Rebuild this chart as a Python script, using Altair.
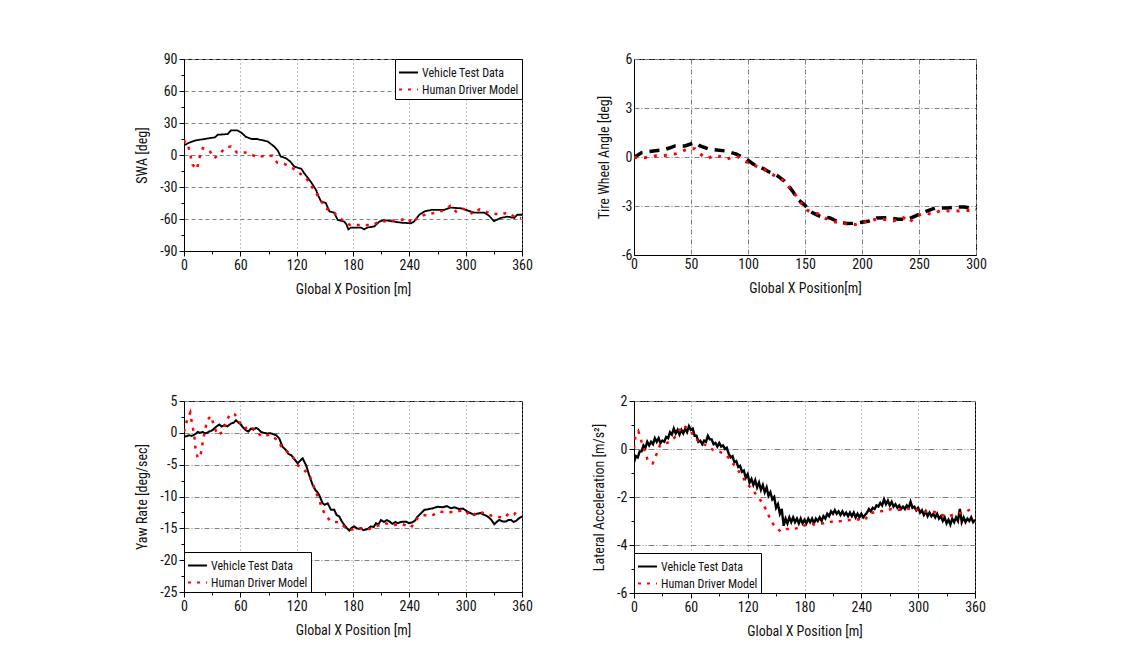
import altair as alt
import numpy as np
import pandas as pd

FONT = "Roboto Condensed, Liberation Sans, Arial, sans-serif"
SERIES = ["Vehicle Test Data", "Human Driver Model"]

# ---------------- Panel 1: SWA ----------------
swa_vehicle = [(0, 9), (4, 11), (10, 13), (14.5, 14), (22, 15), (28.8, 16), (33, 16.5), (36, 19),
               (46.5, 19.6), (50, 23), (57, 23), (61, 21), (66, 17), (72, 15), (78, 15), (85, 13.5),
               (89, 12.7), (96, 8), (100, 4), (103, -1.4), (108.6, -3), (113, -6), (117.5, -10.8),
               (122.8, -12.4), (125, -13), (128, -17), (135, -25), (140.6, -32.7), (143, -38),
               (146, -43.7), (151, -45), (155, -53), (160, -54), (163.7, -61), (170.7, -62.5),
               (173, -65), (175, -69.7), (177.8, -68), (188.5, -68), (192, -69.7), (195.5, -68),
               (202.6, -67), (208, -62.5), (213, -61), (224, -62.5), (231, -63.4), (241.8, -64),
               (245, -62.5), (250.6, -56), (256, -53), (263, -51.5), (277, -51.5), (284, -49.3),
               (295, -50), (302, -52), (309, -54), (320, -54), (325, -57), (330, -62), (337.5, -59),
               (344.7, -57.8), (351.8, -59), (355, -56), (360, -56)]
swa_model = [(0, 11), (1, 12.7), (4, 11), (6.7, 0.2), (9, -9), (13.8, -13.3), (16.3, -3), (20, 6.4),
             (25, 5.5), (27.7, 3.3), (32.3, -3), (38.7, 1.7), (44.7, 7.3), (50, 8), (56.4, 2.4),
             (65.3, 2.4), (72, 0.2), (78.5, -2), (85.6, -0.8), (94.4, -0.8), (99, -7), (106.9, -8.3),
             (115.7, -12.4), (122.8, -17), (128, -20.2), (133.5, -25), (137, -31), (142, -37.4),
             (147, -44.3), (151, -50), (158.3, -53), (164.4, -57.8), (170.7, -62.5), (177, -65.6),
             (185, -65.6), (193, -65.6), (201, -65.6), (209.8, -61.8), (217, -62.5), (224, -61.5),
             (231, -61), (237.5, -59.3), (243.5, -64), (248, -59.3), (254, -56.8), (259.5, -55.3),
             (265, -54.6), (272, -53), (277, -52), (283.7, -47.7), (289.7, -53), (295, -50),
             (302, -51.5), (307.5, -55.3), (314.6, -51), (320, -53), (327, -54.6), (332.3, -55.3),
             (337.6, -55.6), (344.7, -54), (351.8, -57.8), (359, -59.3)]

# ---------------- Panel 2: Tire wheel angle ----------------
twa_vehicle = [(0, -0.03), (6.7, 0.27), (12, 0.33), (17, 0.37), (25.7, 0.43), (31, 0.55), (36, 0.68),
               (44.7, 0.68), (49, 0.78), (53.5, 0.88), (58, 0.68), (65, 0.5), (72.5, 0.43), (80, 0.37),
               (85, 0.28), (90, 0.17), (98.8, -0.13), (104.7, -0.44), (114.3, -0.74), (118, -0.9),
               (123.7, -1.04), (131.6, -1.45), (136, -1.8), (139.8, -2.15), (143.3, -2.56),
               (150, -2.96), (154.4, -3.33), (159, -3.5), (164.6, -3.67), (172, -3.73), (179, -3.97),
               (186.5, -4.07), (192, -4.05), (198, -4.01), (205.5, -3.93), (212.9, -3.73),
               (223, -3.71), (232, -3.81), (240.6, -3.81), (248, -3.57), (256.7, -3.31),
               (264, -3.13), (274, -3.13), (281.6, -3.06), (290, -3.06), (300, -3.2)]
twa_model = [(0, -0.03), (9.6, -0.04), (19.3, 0.07), (29, 0.11), (39.5, 0.23), (46.8, 0.51),
             (53.5, 0.51), (56.4, 0.27), (63.7, -0.09), (72.5, 0.11), (81.3, -0.13), (90, 0.07),
             (97.4, -0.27), (105, -0.5), (112.9, -0.7), (120.7, -1.04), (131, -1.45), (136.8, -1.91),
             (142, -2.36), (146.5, -2.82), (152.3, -3.27), (161, -3.47), (168.4, -3.77),
             (175.4, -3.97), (184.2, -4.07), (194.2, -4.13), (202.6, -3.97), (211.4, -3.83),
             (218.7, -3.81), (227.5, -3.91), (236.3, -3.71), (241.5, -4.01), (247.4, -3.61),
             (255.3, -3.43), (262.6, -3.51), (268.5, -3.27), (277.2, -3.31), (286, -3.31),
             (291.8, -3.27), (299, -3.27)]

# ---------------- Panel 3: Yaw rate ----------------
yaw_vehicle = [(0, -0.63), (3, -0.5), (5.7, -0.37), (8, -0.5), (11, -0.27), (13, -0.1), (14.6, 0.15),
               (17, 0.0), (19.9, 0.15), (22, -0.05), (24.5, 0.0), (26.5, 0.2), (28.8, 0.3), (31, 0.5),
               (34, 0.93), (37.6, 1.3), (40, 1.0), (43, 1.2), (46, 1.0), (50, 1.45), (53, 1.6),
               (55.4, 1.98), (58, 1.6), (60.7, 1.3), (63, 0.8), (66, 0.41), (68.5, 0.2), (71.4, 0.67),
               (74, 0.5), (76.7, 0.78), (79, 0.6), (82, 0.15), (85, 0.0), (89, -0.11), (92, -0.05),
               (96, -0.27), (98.5, -0.4), (101.5, -0.9), (105, -2.2), (108.6, -2.7), (111, -3.3),
               (114, -3.5), (117, -4.0), (121, -4.8), (123.5, -4.4), (126.4, -4.0), (128, -4.5),
               (130, -5.07), (133, -6.5), (137, -8.2), (140, -9.0), (142, -9.3), (144, -9.77),
               (147.7, -11.07), (150, -11.3), (153, -11.07), (156.6, -12.1), (160, -12.1),
               (162.5, -12.9), (165.4, -13.15), (168, -13.9), (170.7, -14.46), (173, -14.9),
               (176, -15.35), (178.5, -14.9), (181.4, -14.7), (185, -15.1), (188.5, -14.97),
               (191, -15.3), (193.8, -15.2), (196.5, -15.0), (199, -14.7), (202, -14.8),
               (204.5, -14.2), (207, -14.4), (209.8, -13.7), (213, -14.0), (216, -13.7),
               (218.7, -13.9), (222, -14.3), (225, -14.0), (227.5, -14.2), (231, -14.0),
               (236.4, -13.94), (240, -14.2), (243.4, -14.04), (246, -13.8), (248.8, -13.15),
               (252, -12.7), (256, -12.1), (260, -12.0), (265, -11.85), (270, -11.6), (275.6, -11.7),
               (280, -11.5), (284.4, -11.85), (288, -11.7), (293, -11.96), (297, -11.9),
               (302, -12.37), (305, -12.6), (309, -12.9), (312, -12.7), (316, -12.6), (320, -12.9),
               (323.5, -13.15), (327, -13.6), (330.5, -14.35), (333, -14.0), (335.8, -13.67),
               (339, -13.9), (342.9, -13.94), (345.5, -13.7), (348.2, -13.67), (351, -14.0),
               (353.5, -13.84), (357, -13.4), (360, -13.15)]
yaw_model = [(0, 0.15), (3.2, 1.98), (6.7, 3.2), (8.5, 1.45), (11, -0.37), (12, -2.2), (14.6, -4.0),
             (18, -3.24), (20, -1.4), (24.5, 1.98), (28.8, 2.65), (32.3, 0.93), (36, -0.37),
             (41, 0.15), (44.7, 1.72), (49.3, 3.0), (54.3, 2.86), (59, 1.72), (64.3, 0.67),
             (70.7, 1.1), (76.7, 0.15), (83.8, -0.63), (90.9, -0.27), (99.8, -1.15), (105, -2.46),
             (110.4, -2.98), (115.7, -3.77), (121, -5.07), (126.4, -5.6), (133.5, -6.64),
             (137, -7.94), (142.3, -10.0), (146.6, -11.6), (150.2, -12.9), (156.6, -13.94),
             (165.4, -14.04), (172.5, -15.0), (177.8, -15.2), (184.9, -14.97), (195.5, -15.2),
             (204.5, -14.7), (213.3, -14.2), (224, -14.46), (232.9, -14.35), (241.8, -14.87),
             (248.8, -13.4), (254.2, -12.9), (263, -13.05), (272, -12.4), (280.9, -12.5),
             (289.7, -12.4), (298.6, -12.1), (305.7, -13.15), (312.8, -12.4), (319.9, -12.6),
             (327, -13.0), (334, -13.15), (341, -13.4), (346.4, -12.6), (351.8, -12.8),
             (357, -11.85)]

# ---------------- Panel 4: Lateral acceleration ----------------
lat_vehicle = [(0, -0.55), (2, -0.3), (4, -0.35), (6, -0.1), (8, -0.1), (10, 0.15), (12, 0.05),
               (14, 0.3), (16, 0.15), (18, 0.3), (20, 0.2), (22, 0.45), (24, 0.3), (26, 0.45),
               (28, 0.25), (30, 0.35), (32, 0.3), (34, 0.5), (36, 0.45), (38, 0.7), (40, 0.6),
               (42, 0.85), (44, 0.65), (46, 0.8), (48, 0.6), (50, 0.8), (52, 0.65), (54, 0.85),
               (56, 0.7), (58, 0.95), (60, 0.8), (62, 0.85), (64, 0.55), (66, 0.55), (68, 0.3),
               (70, 0.35), (72, 0.2), (74, 0.35), (76, 0.3), (78, 0.55), (80, 0.4), (82, 0.4),
               (84, 0.2), (86, 0.25), (88, 0.1), (90, 0.25), (92, 0.1), (94, 0.15), (96, 0.0),
               (98, 0.05), (100, -0.2), (102, -0.35), (104, -0.3), (106, -0.55), (108, -0.5),
               (110, -0.75), (112, -0.7), (114, -0.95), (116, -0.9), (118, -1.2), (120, -1.05),
               (122, -1.4), (124, -1.25), (126, -1.5), (128, -1.3), (130, -1.6), (132, -1.4),
               (134, -1.7), (136, -1.5), (138, -1.8), (140, -1.6), (142, -1.95), (144, -1.8),
               (146, -2.1), (148, -2.0), (150, -2.45), (152, -2.3), (154, -2.7), (156, -2.5),
               (158, -3.2), (160, -2.9), (162, -3.1), (164, -2.85), (166, -3.05), (168, -2.85),
               (170, -3.05), (172, -2.9), (174, -3.1), (176, -2.9), (178, -3.1), (180, -2.95),
               (182, -3.1), (184, -2.9), (186, -3.05), (188, -2.9), (190, -3.1), (192, -2.9),
               (194, -3.0), (196, -2.85), (198, -3.0), (200, -2.8), (202, -2.9), (204, -2.7),
               (206, -2.8), (208, -2.6), (210, -2.7), (212, -2.55), (214, -2.7), (216, -2.6),
               (218, -2.75), (220, -2.6), (222, -2.75), (224, -2.65), (226, -2.8), (228, -2.65),
               (230, -2.8), (232, -2.65), (234, -2.85), (236, -2.7), (238, -2.85), (240, -2.7),
               (242, -2.85), (244, -2.75), (246, -2.65), (248, -2.5), (250, -2.6), (252, -2.45),
               (254, -2.5), (256, -2.35), (258, -2.4), (260, -2.25), (262, -2.35), (264, -2.1),
               (266, -2.3), (268, -2.15), (270, -2.35), (272, -2.2), (274, -2.4), (276, -2.3),
               (278, -2.45), (280, -2.35), (282, -2.5), (284, -2.4), (286, -2.5), (288, -2.35),
               (290, -2.45), (292, -2.2), (294, -2.45), (296, -2.4), (298, -2.55), (300, -2.45),
               (302, -2.65), (304, -2.55), (306, -2.75), (308, -2.6), (310, -2.8), (312, -2.65),
               (314, -2.8), (316, -2.7), (318, -2.85), (320, -2.7), (322, -2.9), (324, -2.8),
               (326, -3.0), (328, -2.85), (330, -3.1), (332, -2.95), (334, -3.15), (336, -2.9),
               (338, -3.05), (340, -2.85), (342, -3.0), (344, -2.5), (346, -3.05), (348, -2.85),
               (350, -3.05), (352, -2.9), (354, -3.0), (356, -2.85), (358, -3.05), (360, -2.95)]
lat_model = [(0, 0.02), (1.4, 0.5), (4.6, 0.74), (8, 0.3), (11.6, -0.12), (15, -0.53), (19.7, -0.6),
             (24, -0.19), (27.4, 0.16), (33.8, 0.23), (40.8, 0.37), (46.8, 0.71), (52, 0.99),
             (59, 0.78), (64.3, 0.5), (69.6, 0.23), (76.6, 0.16), (83.7, -0.05), (90.7, -0.12),
             (97.7, -0.26), (103, -0.53), (108.3, -0.81), (113.6, -1.09), (118.8, -1.43),
             (124, -1.64), (129.4, -1.92), (135.7, -2.26), (140.6, -2.61), (144, -2.96),
             (148.7, -3.23), (155, -3.44), (161, -3.33), (169.8, -3.33), (176.8, -3.23),
             (183.9, -3.13), (192.7, -3.13), (201.5, -3.09), (210.2, -3.02), (219, -3.0),
             (227.8, -2.96), (236.6, -2.93), (243.6, -2.96), (249, -2.68), (256, -2.61),
             (264.7, -2.58), (271.8, -2.5), (278.8, -2.54), (285.8, -2.5), (292.9, -2.47),
             (300, -2.54), (307, -2.61), (314, -2.58), (321, -2.68), (329.8, -2.82), (336.8, -2.75),
             (343.8, -2.68), (350.9, -2.61), (357.9, -2.44)]


def long_df(vehicle, model):
    rows = [(x, y, SERIES[0]) for x, y in vehicle] + [(x, y, SERIES[1]) for x, y in model]
    return pd.DataFrame(rows, columns=["x", "y", "series"])


def make_axis(title, lo, hi, step, major, grid_dash, ticks=True, title_pad=10):
    vals = [float(round(v, 4)) for v in np.arange(lo, hi + step / 2, step)]
    test = f"abs(datum.value % {major}) < 0.0001"
    kw = dict(
        values=vals,
        title=title,
        labelExpr=f"{test} ? '' + datum.value : ''",
        labelOverlap=False,
        labelFlush=False,
        labelBound=False,
        ticks=ticks,
        tickColor="black",
        grid=True,
        gridDash=grid_dash,
        gridColor="#808080",
        gridWidth=1,
        gridOpacity={"condition": {"test": test, "value": 1}, "value": 0},
        domainColor="black",
        labelFont=FONT,
        labelFontSize=14,
        labelColor="#111111",
        labelPadding=2,
        titleFont=FONT,
        titleFontSize=14,
        titleFontWeight="normal",
        titleColor="#111111",
        titlePadding=title_pad,
    )
    if ticks:
        kw["tickSize"] = {"condition": {"test": test, "value": 5}, "value": 3}
    return alt.Axis(**kw)


def panel(df, xaxis, xdom, yaxis, ydom, w, h, veh_dash, veh_w, mod_dash, mod_w, orient=None):
    if orient:
        leg = alt.Legend(orient=orient, title=None, offset=0)
    else:
        leg = None
    return alt.Chart(df).mark_line(clip=True, strokeCap="butt").encode(
        x=alt.X("x:Q", scale=alt.Scale(domain=xdom, nice=False, zero=False), axis=xaxis),
        y=alt.Y("y:Q", scale=alt.Scale(domain=ydom, nice=False, zero=False), axis=yaxis),
        color=alt.Color("series:N", scale=alt.Scale(domain=SERIES, range=["#000000", "#ff0000"]),
                        legend=leg),
        strokeDash=alt.StrokeDash("series:N", scale=alt.Scale(domain=SERIES, range=[veh_dash, mod_dash]),
                                  legend=leg),
        strokeWidth=alt.condition(alt.datum.series == SERIES[0], alt.value(veh_w), alt.value(mod_w)),
    ).properties(width=w, height=h)


DOT_H = [4, 3]
DOT_V = [1, 3]
DASHDOT = [5, 2, 1, 2]

p1 = panel(long_df(swa_vehicle, swa_model),
           make_axis("Global X Position [m]", 0, 360, 30, 60, DOT_V),
           [0, 360],
           make_axis("SWA [deg]", -90, 90, 15, 30, DOT_H),
           [-90, 90], 338, 192, [1, 0], 1.8, [3, 6], 2.5, "top-right")
p2 = panel(long_df(twa_vehicle, twa_model),
           make_axis("Global X Position[m]", 0, 300, 50, 50, DASHDOT, ticks=False),
           [0, 300],
           make_axis("Tire Wheel Angle [deg]", -6, 6, 3, 3, DASHDOT, ticks=False),
           [-6, 6], 342, 196, [10, 7], 3.5, [3, 7], 3, None)
p3 = panel(long_df(yaw_vehicle, yaw_model),
           make_axis("Global X Position [m]", 0, 360, 30, 60, DOT_V),
           [0, 360],
           make_axis("Yaw Rate [deg/sec]", -25, 5, 2.5, 5, DASHDOT),
           [-25, 5], 338, 191, [1, 0], 2.0, [3, 6], 2.5, "bottom-left")
p4 = panel(long_df(lat_vehicle, lat_model),
           make_axis("Global X Position [m]", 0, 360, 30, 60, DOT_V),
           [0, 360],
           make_axis("Lateral Acceleration [m/s\u00b2]", -6, 2, 1, 2, [6, 2, 1, 2, 1, 2]),
           [-6, 2], 341, 192, [1, 0], 2.4, [3, 6], 2.5, "bottom-left")

row1 = alt.hconcat(p1, p2, spacing=64).resolve_scale(color="independent", strokeDash="independent")
row2 = alt.hconcat(p3, p4, spacing=59).resolve_scale(color="independent", strokeDash="independent")

chart = alt.vconcat(row1, row2, spacing=96).resolve_scale(
    color="independent", strokeDash="independent"
).properties(
    padding={"left": 127, "top": 43, "right": 5, "bottom": 5},
    background="white",
).configure_view(
    stroke="black", strokeWidth=1
).configure_legend(
    strokeColor="black",
    fillColor="white",
    padding=3,
    labelFont=FONT,
    labelFontSize=12,
    labelColor="#111111",
    symbolType="stroke",
    symbolSize=360,
    symbolStrokeWidth=2,
    rowPadding=0,
    labelOffset=3,
    cornerRadius=0,
)

chart.save("out.html", embed_options={"renderer": "svg", "actions": False})
